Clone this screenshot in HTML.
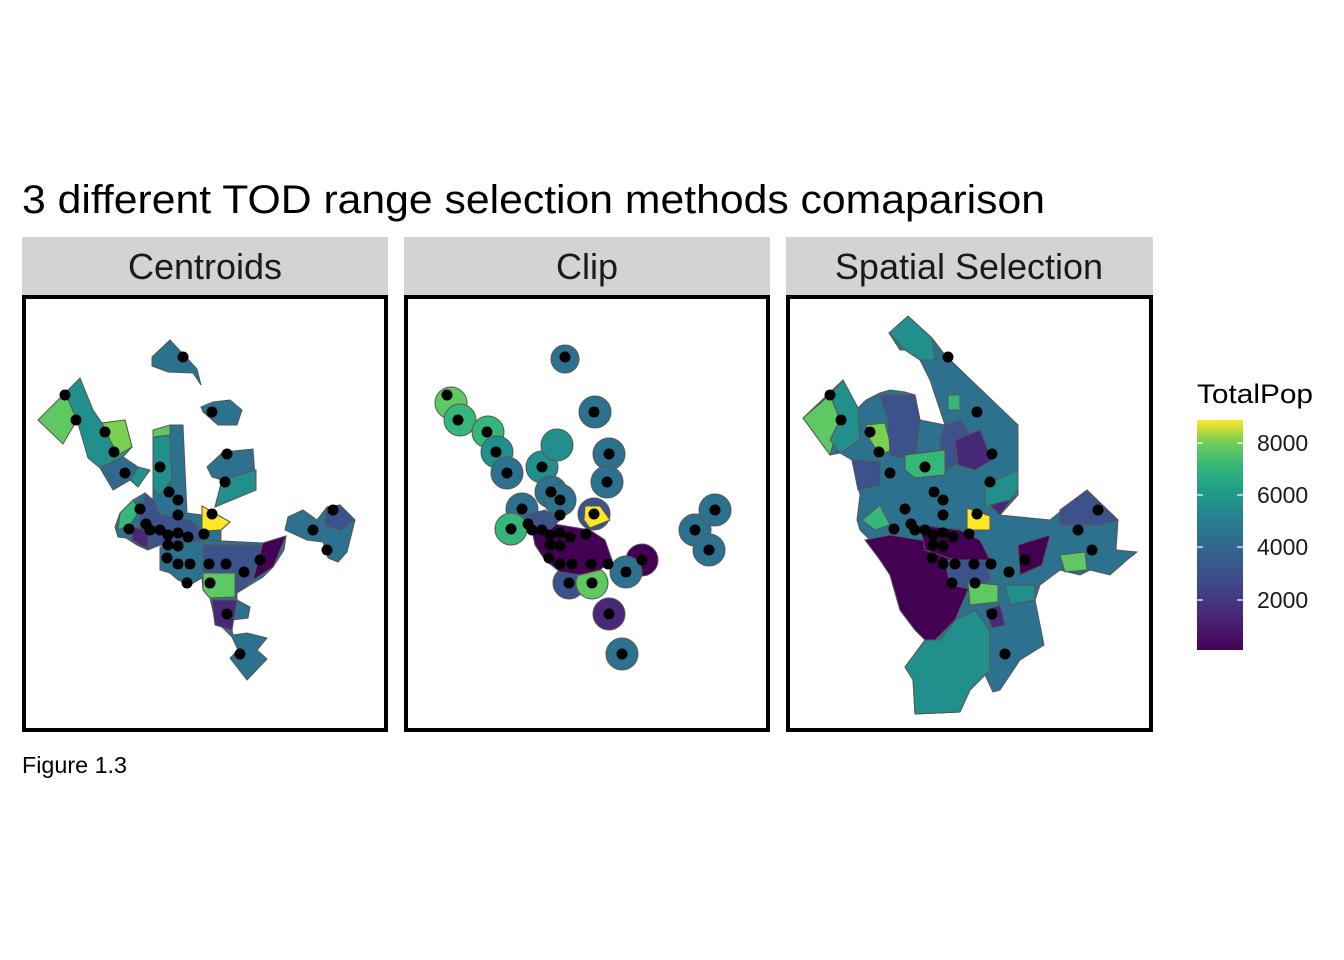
<!DOCTYPE html>
<html><head><meta charset="utf-8"><style>
body{margin:0;background:#fff;}
svg{display:block;font-family:"Liberation Sans",Arial,sans-serif;}
</style></head><body>
<svg width="1344" height="960" viewBox="0 0 1344 960" xmlns="http://www.w3.org/2000/svg">
<defs>
<linearGradient id="vir" x1="0" y1="1" x2="0" y2="0">
<stop offset="0" stop-color="#440154"/><stop offset="0.15" stop-color="#482878"/>
<stop offset="0.3" stop-color="#3e4a89"/><stop offset="0.45" stop-color="#31688e"/>
<stop offset="0.58" stop-color="#26828e"/><stop offset="0.7" stop-color="#1f9e89"/>
<stop offset="0.8" stop-color="#35b779"/><stop offset="0.9" stop-color="#6ece58"/>
<stop offset="1" stop-color="#fde725"/></linearGradient>
<g id="dots" fill="#000">
<circle cx="183" cy="357" r="5.5"/><circle cx="65" cy="395" r="5.5"/><circle cx="76" cy="420" r="5.5"/><circle cx="212" cy="412" r="5.5"/><circle cx="105" cy="432" r="5.5"/><circle cx="114" cy="452" r="5.5"/><circle cx="227" cy="454" r="5.5"/><circle cx="125" cy="473" r="5.5"/><circle cx="160" cy="467" r="5.5"/><circle cx="225" cy="482" r="5.5"/><circle cx="169" cy="492" r="5.5"/><circle cx="178" cy="500" r="5.5"/><circle cx="178" cy="515" r="5.5"/><circle cx="212" cy="514" r="5.5"/><circle cx="140" cy="509" r="5.5"/><circle cx="129" cy="529" r="5.5"/><circle cx="146" cy="524" r="5.5"/><circle cx="150" cy="530" r="5.5"/><circle cx="160" cy="530" r="5.5"/><circle cx="168" cy="535" r="5.5"/><circle cx="178" cy="533" r="5.5"/><circle cx="188" cy="537" r="5.5"/><circle cx="204" cy="534" r="5.5"/><circle cx="168" cy="545" r="5.5"/><circle cx="178" cy="546" r="5.5"/><circle cx="167" cy="558" r="5.5"/><circle cx="178" cy="564" r="5.5"/><circle cx="190" cy="564" r="5.5"/><circle cx="209" cy="564" r="5.5"/><circle cx="226" cy="564" r="5.5"/><circle cx="244" cy="572" r="5.5"/><circle cx="260" cy="560" r="5.5"/><circle cx="187" cy="583" r="5.5"/><circle cx="210" cy="583" r="5.5"/><circle cx="227" cy="614" r="5.5"/><circle cx="240" cy="654" r="5.5"/><circle cx="313" cy="530" r="5.5"/><circle cx="333" cy="510" r="5.5"/><circle cx="327" cy="550" r="5.5"/>
</g>
</defs>
<text x="22" y="213" font-size="40" fill="#000" textLength="1023" lengthAdjust="spacingAndGlyphs">3 different TOD range selection methods comaparison</text>
<rect x="22" y="237" width="366" height="58" fill="#d3d3d3"/>
<rect x="404" y="237" width="366" height="58" fill="#d3d3d3"/>
<rect x="786" y="237" width="367" height="58" fill="#d3d3d3"/>
<text x="205" y="279" font-size="36" text-anchor="middle" fill="#1a1a1a">Centroids</text>
<text x="587" y="279" font-size="36" text-anchor="middle" fill="#1a1a1a">Clip</text>
<text x="969" y="279" font-size="36" text-anchor="middle" fill="#1a1a1a">Spatial Selection</text>

<!-- Centroids panel -->
<g stroke="#555" stroke-width="1">
<polygon fill="#2c728e" points="152,357 170,340 197,369 201,385 193,373 168,372 152,366"/>
<polygon fill="#21908c" points="65,393 80,378 93,410 102,423 125,420 132,447 123,457 138,467 150,470 138,487 130,480 113,490 120,480 100,468 88,458 77,420"/>
<polygon fill="#5ec962" points="38,420 65,393 77,420 63,444"/>
<polygon fill="#7ad151" points="102,423 125,420 132,447 118,455 110,440"/>
<polygon fill="#31688e" points="100,468 123,457 138,467 130,480 113,490"/>
<polygon fill="#2c728e" points="115,527 120,513 133,500 145,493 153,500 153,437 170,435 170,425 183,425 187,513 202,515 202,506 230,522 221,530 221,545 213,545 200,548 190,545 178,548 160,545 150,545 148,550 137,545 126,538 118,537"/>
<polygon fill="#3b528b" points="145,493 153,500 160,515 190,520 202,531 200,548 160,545 148,550 137,545 140,520"/>
<polygon fill="#21908c" points="153,437 170,435 172,480 160,495 153,490"/>
<polygon fill="#5ec962" points="153,437 170,435 170,425 153,430"/>
<polygon fill="#35b779" points="120,513 133,500 140,510 130,525 118,530"/>
<polygon fill="#482878" points="132,527 148,530 148,548 140,545 132,540"/>
<polygon fill="#fde725" points="202,506 230,522 221,530 202,531"/>
<polygon fill="#2c728e" points="160,547 203,540 263,543 286,536 284,550 273,567 263,577 250,585 237,593 237,600 250,607 248,618 232,620 232,630 233,635 247,633 267,638 257,650 267,659 247,680 230,658 238,650 232,637 215,620 210,598 203,590 202,578 190,585 178,580 170,573 160,570"/>
<polygon fill="#3b528b" points="203,545 263,545 253,580 237,593 215,590 203,575"/>
<polygon fill="#5ec962" points="203,573 235,573 235,597 210,598 203,590"/>
<polygon fill="#440154" points="263,543 286,536 273,567 253,580"/>
<polygon fill="#482878" points="212,600 237,600 232,630 215,625"/>
<polygon fill="#2c728e" points="285,530 288,517 303,510 317,520 327,507 340,505 355,520 347,552 338,562 328,558 323,542 307,540"/>
<polygon fill="#3b528b" points="327,507 340,505 355,520 340,530 325,525"/>
<polygon fill="#2c728e" points="201,407 213,402 230,400 242,410 237,425 218,425 203,412"/>
<polygon fill="#2c728e" points="207,467 223,452 253,449 256,490 230,500 215,507 222,480 212,477"/>
<polygon fill="#21908c" points="222,480 256,470 256,490 215,507"/>
</g>
<use href="#dots"/>

<!-- Clip panel -->
<g stroke="#555" stroke-width="1" fill="#2c728e">
<circle cx="565" cy="359" r="14"/>
<circle cx="451" cy="403" r="16" fill="#5ec962"/><circle cx="460" cy="420" r="16" fill="#35b779"/>
<circle cx="488" cy="432" r="16" fill="#35b779"/><circle cx="497" cy="452" r="16" fill="#21908c"/>
<circle cx="507" cy="473" r="16"/><circle cx="542" cy="467" r="16" fill="#21908c"/>
<circle cx="557" cy="445" r="16" fill="#21908c"/><circle cx="595" cy="412" r="16"/>
<circle cx="609" cy="454" r="16"/><circle cx="607" cy="482" r="16"/>
<circle cx="551" cy="492" r="16"/><circle cx="560" cy="500" r="16"/>
<circle cx="522" cy="509" r="16"/><circle cx="511" cy="529" r="16" fill="#35b779"/>
<circle cx="594" cy="514" r="16" fill="#3b528b"/>
<circle cx="642" cy="560" r="16" fill="#440154"/><circle cx="626" cy="572" r="16"/>
<circle cx="569" cy="583" r="16" fill="#3b528b"/><circle cx="592" cy="583" r="16" fill="#5ec962"/>
<circle cx="609" cy="614" r="16" fill="#482878"/><circle cx="622" cy="654" r="16"/>
<circle cx="695" cy="530" r="16"/><circle cx="715" cy="510" r="16"/><circle cx="709" cy="550" r="16"/>
<polygon fill="#440154" points="530,520 560,525 590,530 605,540 612,560 600,570 580,575 560,572 545,560 535,545"/>
<polygon fill="#3b528b" points="525,515 545,510 560,520 550,530 530,530"/>
<polygon fill="#fde725" points="585,506 600,506 610,520 590,528 584,520"/>
</g>
<g transform="translate(382,0)"><use href="#dots"/></g>

<!-- Spatial Selection panel -->
<g stroke="#555" stroke-width="1">
<polygon fill="#2c728e" points="889,333 908,316 932,338 945,355 1018,425 1018,495 1000,515 1050,520 1087,490 1118,520 1116,550 1137,552 1127,560 1110,575 1090,570 1080,575 1060,570 1040,585 1035,600 1044,645 1020,660 1000,690 993,692 985,675 970,690 960,712 915,714 913,680 905,667 925,640 915,630 900,610 890,575 880,560 870,540 860,530 857,520 860,495 852,460 840,453 830,455 803,418 843,380 858,408 866,400 880,393 890,390 905,392 915,395 920,420 945,425 930,380 920,360 905,350 900,350"/>
<polygon fill="#21908c" points="889,333 908,316 932,338 935,360 920,360 905,350"/>
<polygon fill="#5ec962" points="803,418 830,395 840,420 830,455"/>
<polygon fill="#21908c" points="830,395 843,380 858,408 860,440 840,453 830,440 840,420"/>
<polygon fill="#7ad151" points="866,425 885,423 892,450 880,455 870,440"/>
<polygon fill="#3b528b" points="880,395 915,395 920,420 915,460 890,455 888,420"/>
<polygon fill="#3b528b" points="945,425 960,420 975,440 965,460 945,470 940,440"/>
<polygon fill="#35b779" points="948,395 960,395 960,410 948,410"/>
<polygon fill="#482878" points="955,440 980,430 992,460 975,470 958,465"/>
<polygon fill="#35b779" points="905,455 945,450 945,475 915,478 905,470"/>
<polygon fill="#3b528b" points="852,460 880,462 880,485 858,490"/>
<polygon fill="#21908c" points="985,485 1018,470 1018,495 995,510 985,505"/>
<polygon fill="#482878" points="990,505 1010,500 1018,490 1000,515"/>
<polygon fill="#35b779" points="862,520 880,505 890,525 875,530"/>
<polygon fill="#440154" points="865,540 890,535 920,540 955,545 990,560 985,585 970,585 955,620 945,630 935,640 925,640 915,630 900,610 890,575 880,560"/>
<polygon fill="#440154" points="920,525 960,530 980,540 990,560 955,560 925,550"/>
<polygon fill="#fde725" points="967,508 990,516 990,530 967,530"/>
<polygon fill="#3b528b" points="945,560 985,560 990,580 975,590 950,585"/>
<polygon fill="#5ec962" points="968,582 998,585 998,602 970,605"/>
<polygon fill="#440154" points="1018,545 1050,535 1042,565 1020,575"/>
<polygon fill="#3b528b" points="1060,510 1087,490 1118,520 1100,525 1060,525"/>
<polygon fill="#5ec962" points="1060,555 1085,552 1087,570 1065,572"/>
<polygon fill="#21908c" points="1005,585 1035,585 1035,600 1010,605"/>
<polygon fill="#21908c" points="955,620 975,610 990,630 990,670 970,690 960,712 915,714 913,680 905,667 925,640 940,640"/>
<polygon fill="#482878" points="985,610 1000,605 1005,625 992,628"/>
</g>
<g transform="translate(765,0)"><use href="#dots"/></g>

<rect x="24" y="297" width="362" height="433" fill="none" stroke="#000" stroke-width="4"/>
<rect x="406" y="297" width="362" height="433" fill="none" stroke="#000" stroke-width="4"/>
<rect x="788" y="297" width="363" height="433" fill="none" stroke="#000" stroke-width="4"/>

<!-- legend -->
<text x="1197" y="403" font-size="27" fill="#000" textLength="116" lengthAdjust="spacingAndGlyphs">TotalPop</text>
<rect x="1197" y="420" width="46" height="230" fill="url(#vir)"/>
<g stroke="#fff" stroke-width="1.2">
<line x1="1197" y1="443" x2="1203" y2="443"/><line x1="1237" y1="443" x2="1243" y2="443"/>
<line x1="1197" y1="495" x2="1203" y2="495"/><line x1="1237" y1="495" x2="1243" y2="495"/>
<line x1="1197" y1="547" x2="1203" y2="547"/><line x1="1237" y1="547" x2="1243" y2="547"/>
<line x1="1197" y1="600" x2="1203" y2="600"/><line x1="1237" y1="600" x2="1243" y2="600"/>
</g>
<g font-size="23" fill="#1a1a1a">
<text x="1257" y="451">8000</text><text x="1257" y="503">6000</text>
<text x="1257" y="555">4000</text><text x="1257" y="608">2000</text>
</g>
<text x="22" y="773" font-size="23" fill="#000" textLength="105" lengthAdjust="spacingAndGlyphs">Figure 1.3</text>
</svg>
</body></html>
